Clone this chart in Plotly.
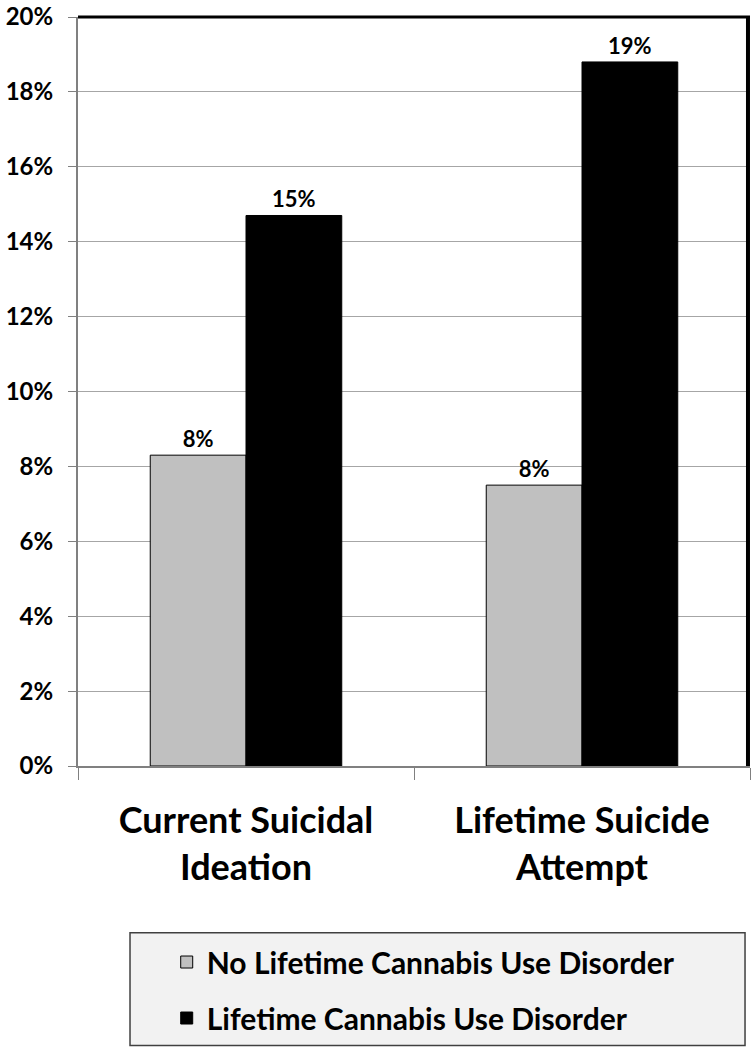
import plotly.graph_objects as go

# values (percent)
categories = ["Current Suicidal<br>Ideation", "Lifetime Suicide<br>Attempt"]
no_cud = [8.3, 7.5]
cud = [14.7, 18.8]
no_cud_labels = ["8%", "8%"]
cud_labels = ["15%", "19%"]
series_names = ["No Lifetime Cannabis Use Disorder", "Lifetime Cannabis Use Disorder"]
y_ticks = list(range(0, 21, 2))
y_tick_text = [f"{v}%" for v in y_ticks]

FONT = "Lato"

fig = go.Figure()
fig.add_trace(go.Bar(
    x=categories, y=no_cud, name=series_names[0],
    text=no_cud_labels, textposition="outside", cliponaxis=False,
    textfont=dict(family=FONT, size=22, color="black", weight="bold"),
    marker=dict(color="#c0c0c0", line=dict(color="black", width=1)),
    legendgroup="a",
))
fig.add_trace(go.Bar(
    x=categories, y=cud, name=series_names[1],
    text=cud_labels, textposition="outside", cliponaxis=False,
    textfont=dict(family=FONT, size=22, color="black", weight="bold"),
    marker=dict(color="black", line=dict(color="black", width=1)),
    legendgroup="b",
))

fig.update_layout(
    width=752, height=1050,
    margin=dict(l=78, r=2, t=17, b=284),
    plot_bgcolor="white", paper_bgcolor="white",
    barmode="group", bargap=0.43, bargroupgap=0,
    font=dict(family=FONT, color="black"),
    showlegend=True,
    legend=dict(
        x=0.132, y=-0.227, xanchor="left", yanchor="top",
        bgcolor="rgba(0,0,0,0)",
        font=dict(family=FONT, size=30, color="black", weight="bold"),
        traceorder="grouped", tracegroupgap=14,
    ),
    shapes=[
        # legend box
        dict(type="rect", xref="paper", yref="paper",
             x0=0.0774, x1=0.9926, y0=-0.2227, y1=-0.3733,
             fillcolor="#f2f2f2", line=dict(color="#404040", width=1.5),
             layer="below"),
        # black top and right frame
        dict(type="line", xref="paper", yref="paper", x0=0, x1=1, y0=1, y1=1,
             line=dict(color="black", width=3)),
        dict(type="line", xref="paper", yref="paper", x0=0.997, x1=0.997, y0=0, y1=1,
             line=dict(color="black", width=4)),
    ],
)

fig.update_xaxes(
    showline=True, linecolor="#808080", linewidth=2,
    ticks="outside", tickson="boundaries", ticklen=12, tickcolor="#808080",
    tickfont=dict(family=FONT, size=36, color="black", weight="bold"),
    ticklabelstandoff=22, automargin=False,
    showgrid=False,
)
fig.update_yaxes(
    range=[0, 20], tickvals=y_ticks, ticktext=y_tick_text,
    showline=True, linecolor="#808080", linewidth=2,
    ticks="outside", ticklen=8, tickcolor="#808080",
    tickfont=dict(family=FONT, size=24, color="black", weight="bold"),
    ticklabelstandoff=10, ticklabeloverflow="allow", automargin=False,
    showgrid=True, gridcolor="#a6a6a6", gridwidth=1,
    zeroline=False,
)

fig.write_html(
    "out.html",
    config={"displayModeBar": False},
    post_script="document.body.style.margin='0';document.body.style.overflow='hidden';",
)
